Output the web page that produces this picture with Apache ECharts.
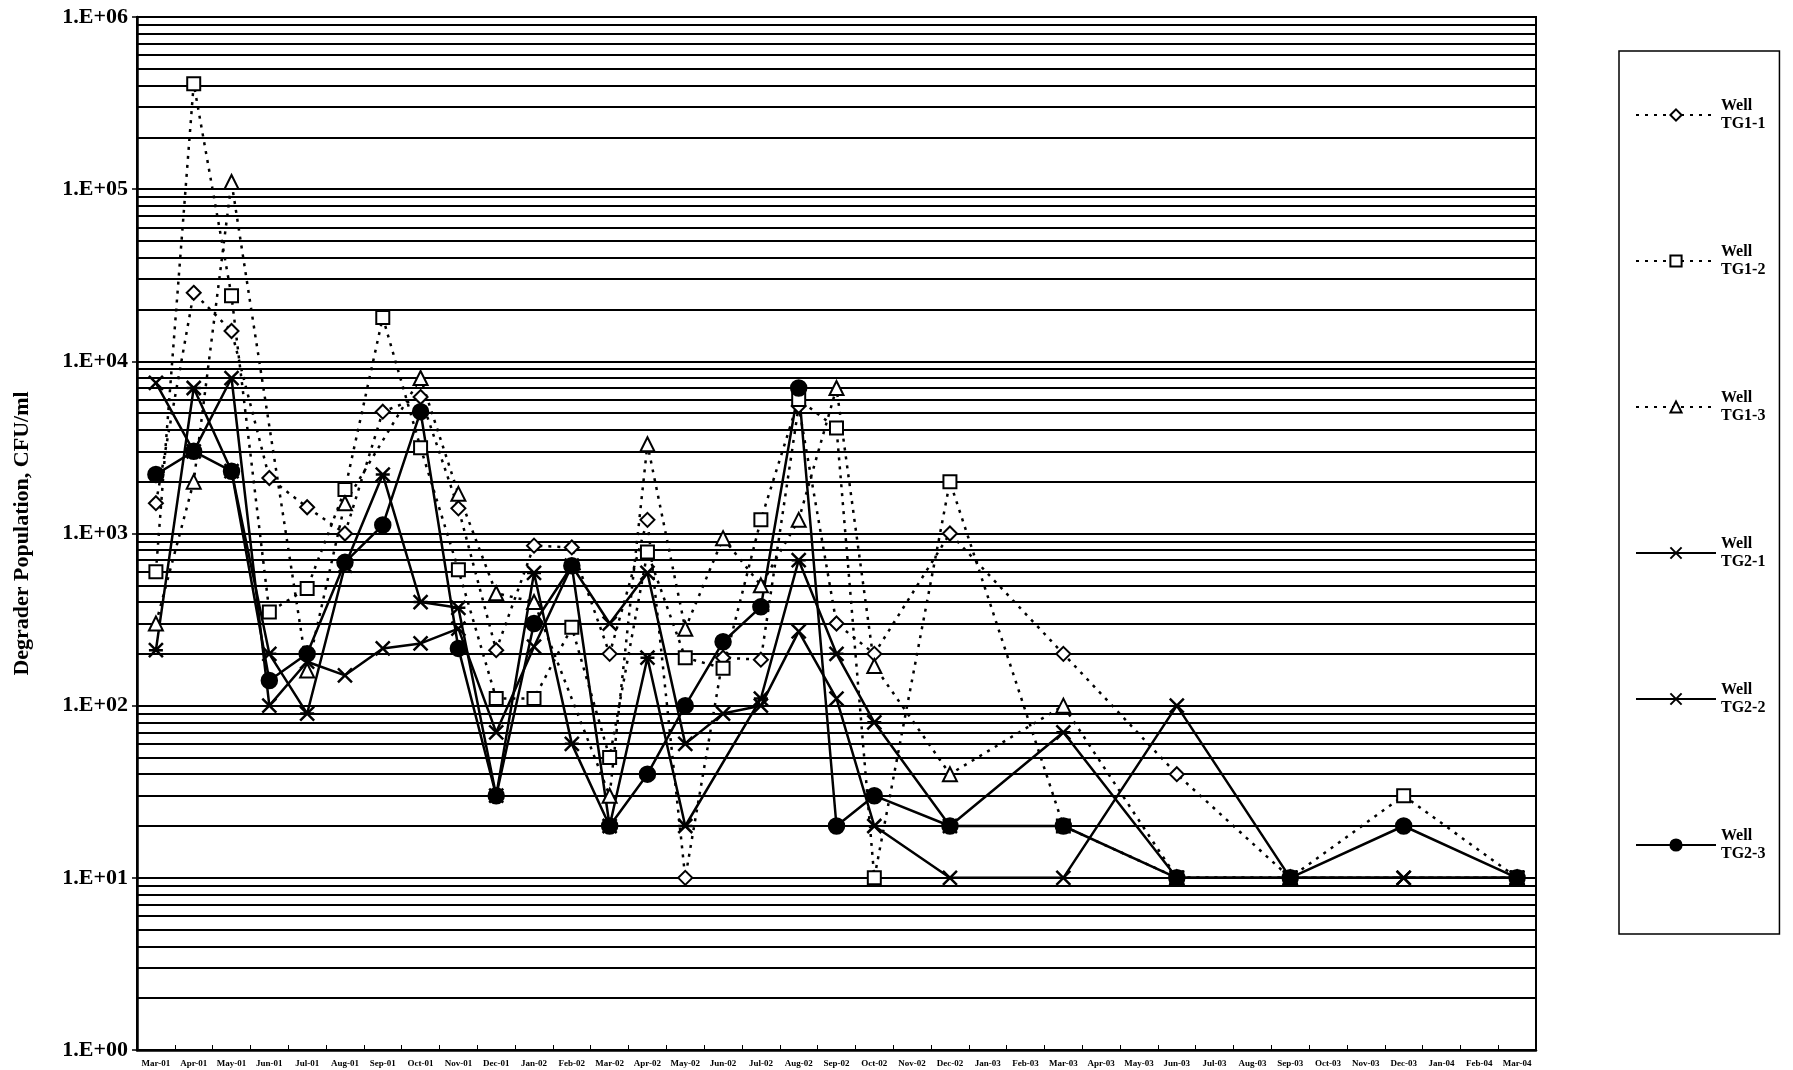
<!DOCTYPE html>
<html>
<head>
    <meta charset="UTF-8">
    <title>Degrader Population</title>
    <script src="https://cdn.jsdelivr.net/npm/echarts@6.0.0/dist/echarts.min.js"></script>
    <style>
        html, body { margin: 0; padding: 0; background: #fff; }
        #chart { width: 1793px; height: 1070px; }
    </style>
</head>
<body>
    <div id="chart"></div>
    <script>
        // months Mar-01 .. Mar-04
        var months = ['Mar-01','Apr-01','May-01','Jun-01','Jul-01','Aug-01','Sep-01','Oct-01','Nov-01','Dec-01',
            'Jan-02','Feb-02','Mar-02','Apr-02','May-02','Jun-02','Jul-02','Aug-02','Sep-02','Oct-02','Nov-02','Dec-02',
            'Jan-03','Feb-03','Mar-03','Apr-03','May-03','Jun-03','Jul-03','Aug-03','Sep-03','Oct-03','Nov-03','Dec-03',
            'Jan-04','Feb-04','Mar-04'];

        // CFU/ml, null = not sampled
        var tg11 = [1500, 25000, 15000, 2100, 1420, 1000, 5100, 6200, 1400, 210, 850, 830, 200, 1200, 10, 190, 185, 5500, 300, 200, null, 1000,
            null, null, 200, null, null, 40, null, null, 10, null, null, null, null, null, 10];
        var tg12 = [600, 410000, 24000, 350, 480, 1800, 18000, 3150, 615, 110, 110, 285, 50, 780, 190, 165, 1200, 6000, 4100, 10, null, 2000,
            null, null, 20, null, null, 10, null, null, 10, null, null, 30, null, null, 10];
        var tg13 = [300, 2000, 110000, null, 160, 1500, null, 8000, 1700, 450, 400, null, 30, 3300, 280, 940, 500, 1200, 7000, 170, null, 40,
            null, null, 100, null, null, 10, null, null, 10, null, null, null, null, null, 10];
        var tg21 = [7500, 3000, 8000, 100, 180, 150, 215, 230, 280, 70, 220, 650, 300, 590, 60, 90, 100, 270, 110, 20, null, 10,
            null, null, 10, null, null, 100, null, null, 10, null, null, 10, null, null, 10];
        var tg22 = [210, 7000, 2300, 200, 90, 650, 2200, 400, 370, 30, 590, 60, 20, 190, 20, null, 110, 700, 200, 80, null, 20,
            null, null, 70, null, null, 10, null, null, 10, null, null, 10, null, null, 10];
        var tg23 = [2200, 3000, 2300, 140, 200, 680, 1120, 5100, 215, 30, 300, 650, 20, 40, 100, 235, 375, 7000, 20, 30, null, 20,
            null, null, 20, null, null, 10, null, null, 10, null, null, 20, null, null, 10];

        var font = '"Liberation Serif", "DejaVu Serif", serif';

        // minor log grid lines 2..9 in each decade
        var minorLines = [];
        for (var d = 0; d < 6; d++) {
            for (var m = 2; m <= 9; m++) minorLines.push({ yAxis: m * Math.pow(10, d) });
        }

        var xSym = 'path://M0,0L10,10M10,0L0,10';
        var starSym = 'path://M0,0L10,10M10,0L0,10M0,5L10,5';

        function mk(name, data, symbol, size, dotted, extra) {
            var s = {
                name: name,
                type: 'line',
                data: data,
                connectNulls: true,
                symbol: symbol,
                symbolSize: size,
                showAllSymbol: true,
                lineStyle: { color: '#000', width: 2.5, type: dotted ? [3, 6] : 'solid' },
                itemStyle: { color: '#000', borderColor: '#000', borderWidth: 2.5 },
                emphasis: { disabled: true },
                z: 3
            };
            if (extra) s.markLine = extra;
            return s;
        }

        var chart = echarts.init(document.getElementById('chart'));
        chart.setOption({
            animation: false,
            backgroundColor: '#fff',
            grid: { left: 137, right: 257, top: 17, bottom: 20, show: true, borderColor: '#000', borderWidth: 2 },
            legend: {
                orient: 'vertical',
                left: 1619,
                top: 51,
                padding: [37, 14, 62, 16],
                itemGap: 92,
                itemWidth: 80,
                itemHeight: 14,
                borderColor: '#000',
                borderWidth: 1.5,
                formatter: function (n) { return n.replace(' ', '\n'); },
                textStyle: { fontFamily: font, fontWeight: 'bold', fontSize: 16, lineHeight: 18, color: '#000', padding: [18, 0, 0, 0] }
            },
            xAxis: {
                type: 'category',
                data: months,
                axisLine: { lineStyle: { color: '#000', width: 2.5 } },
                axisTick: { show: true, inside: true, length: 5, lineStyle: { color: '#000' } },
                axisLabel: { interval: 0, fontFamily: font, fontWeight: 'bold', fontSize: 9, color: '#000', margin: 9 },
                splitLine: { show: false }
            },
            yAxis: {
                type: 'log',
                logBase: 10,
                min: 1,
                max: 1000000,
                name: 'Degrader Population, CFU/ml',
                nameLocation: 'middle',
                nameGap: 104,
                nameTextStyle: { fontFamily: font, fontWeight: 'bold', fontSize: 22, color: '#000' },
                axisLine: { show: true, lineStyle: { color: '#000', width: 2.5 } },
                axisTick: { show: true, length: 5, lineStyle: { color: '#000', width: 1.5 } },
                axisLabel: {
                    fontFamily: font, fontWeight: 'bold', fontSize: 22, color: '#000', margin: 9,
                    formatter: function (v) {
                        var e = Math.round(Math.log10(v));
                        return '1.E+' + (e < 10 ? '0' : '') + e;
                    }
                },
                splitLine: { show: true, lineStyle: { color: '#000', width: 2 } }
            },
            series: [
                mk('Well TG1-1', tg11, 'emptyDiamond', 14, true, {
                    silent: true, symbol: ['none', 'none'], z: 1, animation: false,
                    label: { show: false },
                    lineStyle: { color: '#000', width: 2, type: 'solid' },
                    data: minorLines
                }),
                mk('Well TG1-2', tg12, 'emptyRect', 13, true),
                mk('Well TG1-3', tg13, 'emptyTriangle', 14, true),
                mk('Well TG2-1', tg21, xSym, 14, false),
                mk('Well TG2-2', tg22, starSym, 14, false),
                mk('Well TG2-3', tg23, 'circle', 15, false)
            ]
        });
    </script>
</body>
</html>
